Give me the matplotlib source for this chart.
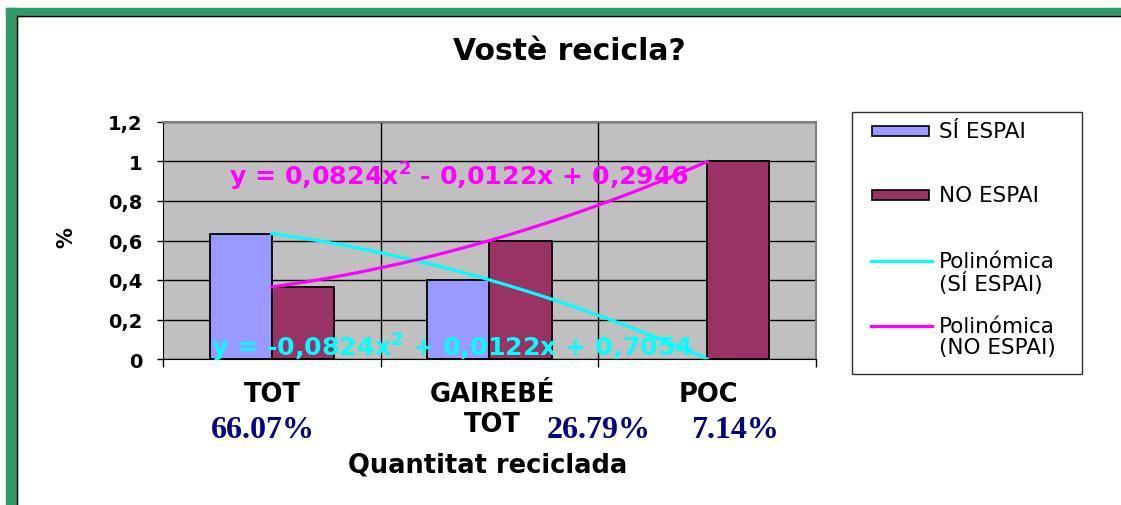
import matplotlib.pyplot as plt
import numpy as np
from matplotlib.patches import Rectangle
from matplotlib.lines import Line2D

plt.rcParams['font.family'] = ['DejaVu Sans']
plt.rcParams['mathtext.fontset'] = 'dejavusans'

# Données
categories = ["TOT", "GAIREBÉ TOT", "POC"]
si_espai = [0.635, 0.40, 0.0]
no_espai = [0.365, 0.60, 1.0]
pourcentages = ["66.07%", "26.79%", "7.14%"]
# coefficients des courbes de tendance (x = 1, 2, 3)
coef_si = [-0.0824, 0.0122, 0.7054]
coef_no = [0.0824, -0.0122, 0.2946]
yticks = [0, 0.2, 0.4, 0.6, 0.8, 1.0, 1.2]
ytick_labels = ["0", "0,2", "0,4", "0,6", "0,8", "1", "1,2"]

W, H = 1121, 506
fig = plt.figure(figsize=(W / 100, H / 100), dpi=100)


def px(x, y):
    """pixel -> fraction de figure"""
    return x / W, 1 - y / H


# cadre vert
fig.patches.append(Rectangle(px(6, 17), (W - 6) / W, 8 / H, transform=fig.transFigure,
                             color="#339966", zorder=0))
fig.patches.append(Rectangle(px(6, H), 11 / W, (H - 9) / H, transform=fig.transFigure,
                             color="#339966", zorder=0))
fig.lines.append(Line2D([17 / W, 17 / W], [0, 1 - 17 / H], transform=fig.transFigure,
                        color="black", lw=1))
fig.lines.append(Line2D([17 / W, 1], [1 - 17 / H, 1 - 17 / H], transform=fig.transFigure,
                        color="black", lw=1))

ax = fig.add_axes([163 / W, 1 - 360 / H, (816 - 163) / W, (360 - 123) / H])
ax.set_facecolor("#C0C0C0")

x = np.arange(len(categories))
largeur = 0.285
bords_si = ["black" if v > 0 else "none" for v in si_espai]
ax.bar(x - largeur, si_espai, width=largeur, align="edge", color="#9999FF",
       edgecolor=bords_si, linewidth=1.3, zorder=3)
ax.bar(x, no_espai, width=largeur, align="edge", color="#993366",
       edgecolor="black", linewidth=1.3, zorder=3)

# courbes de tendance polynomiales
t = np.linspace(1, 3, 60)
ax.plot(t - 1, np.polyval(coef_si, t), color="#00FFFF", lw=2.3, zorder=5)
ax.plot(t - 1, np.polyval(coef_no, t), color="#FF00FF", lw=2.3, zorder=5)

fig.text(*px(229, 186), r"y = 0,0824x$^{\mathbf{2}}$ - 0,0122x + 0,2946", color="#FF00FF",
         fontsize=18.2, fontweight="bold", va="baseline", ha="left", zorder=4)
fig.text(*px(211, 357), r"y = -0,0824x$^{\mathbf{2}}$ + 0,0122x + 0,7054", color="#00FFFF",
         fontsize=18.2, fontweight="bold", va="baseline", ha="left", zorder=4)

ax.set_xlim(-0.5, 2.5)
ax.set_ylim(0, 1.2)
ax.set_yticks(yticks)
ax.set_yticklabels(ytick_labels, fontsize=14, fontweight="bold")
ax.tick_params(axis="y", length=4.5, width=1, pad=10.5)
ax.set_xticks([-0.5, 0.5, 1.5, 2.5])
ax.set_xticklabels([])
ax.tick_params(axis="x", length=6, width=1)
ax.grid(axis="y", color="black", linewidth=1, zorder=1)
for b in [0.5, 1.5]:
    ax.axvline(b, color="black", linewidth=1, zorder=1)
ax.set_axisbelow(True)
for s in ["top", "right"]:
    ax.spines[s].set_color("#808080")
    ax.spines[s].set_linewidth(1.5)
for s in ["left", "bottom"]:
    ax.spines[s].set_color("black")

# titres
fig.text(*px(569, 60), "Vostè recicla?", fontsize=21.5, fontweight="bold",
         ha="center", va="baseline")
fig.text(*px(66, 238), "%", fontsize=15, fontweight="bold", rotation=90,
         ha="center", va="center")
fig.text(*px(488, 472), "Quantitat reciclada", fontsize=18.5, fontweight="bold",
         ha="center", va="baseline")

# étiquettes de catégories
fig.text(*px(272, 402), "TOT", fontsize=18.5, fontweight="bold", ha="center", va="baseline")
fig.text(*px(492, 402), "GAIREBÉ", fontsize=18.5, fontweight="bold", ha="center", va="baseline")
fig.text(*px(492, 432), "TOT", fontsize=18.5, fontweight="bold", ha="center", va="baseline")
fig.text(*px(708, 402), "POC", fontsize=18.5, fontweight="bold", ha="center", va="baseline")
for (xp, txt) in zip([263, 599, 735], pourcentages):
    fig.text(*px(xp, 438), txt, fontsize=23, fontweight="bold", color="#000080",
             family="Liberation Serif", ha="center", va="baseline")

# légende
fig.patches.append(Rectangle(px(852, 375), 230 / W, 262 / H, transform=fig.transFigure,
                             facecolor="white", edgecolor="#303030", lw=1))
fig.patches.append(Rectangle(px(872, 137), 57 / W, 10 / H, transform=fig.transFigure,
                             facecolor="#9999FF", edgecolor="black", lw=1.2))
fig.patches.append(Rectangle(px(872, 201), 57 / W, 10 / H, transform=fig.transFigure,
                             facecolor="#993366", edgecolor="black", lw=1.2))
for yp, c in [(262, "#00FFFF"), (327, "#FF00FF")]:
    fig.lines.append(Line2D([871 / W, 932 / W], [1 - yp / H] * 2, transform=fig.transFigure,
                            color=c, lw=2.3))
legende = [(132, "SÍ ESPAI"), (196, "NO ESPAI"), (262, "Polinómica"), (283, "(SÍ ESPAI)"),
           (327, "Polinómica"), (348, "(NO ESPAI)")]
for yp, txt in legende:
    fig.text(*px(939, yp), txt, fontsize=15.5, ha="left", va="center")

fig.savefig("out.png", dpi=100)
